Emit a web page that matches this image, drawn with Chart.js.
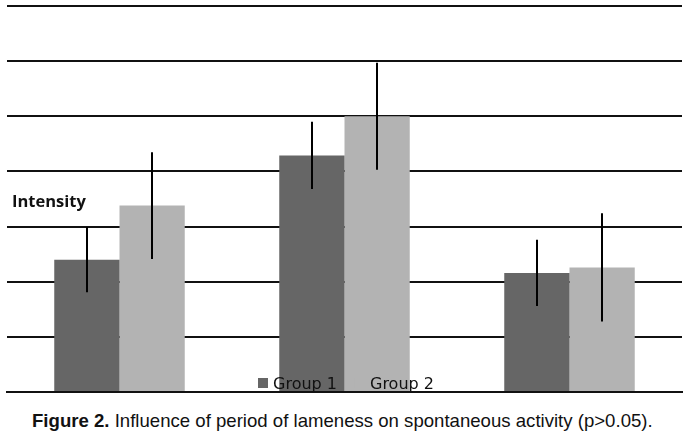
<!DOCTYPE html>
<html>
<head>
<meta charset="utf-8">
<script src="https://cdn.jsdelivr.net/npm/chart.js@4.4.1/dist/chart.umd.min.js"></script>
<style>
  html, body { margin: 0; padding: 0; background: #fff; }
  #wrap { position: relative; width: 686px; height: 436px; overflow: hidden; }
  #chart-box { position: absolute; left: 0; top: 0; width: 686px; height: 400px; }
  #caption {
    position: absolute; left: 32px; top: 410px; white-space: nowrap; line-height: 22px;
    font-family: "Liberation Sans", Arial, sans-serif; font-size: 18.6px; color: #111;
  }
  #caption b { font-weight: bold; }
</style>
</head>
<body>
<div id="wrap">
  <div id="chart-box"><canvas id="chart"></canvas></div>
  <div id="caption"><b>Figure 2.</b> Influence of period of lameness on spontaneous activity (p&gt;0.05).</div>
</div>
<script>
var categories = ['Period 1', 'Period 2', 'Period 3'];
var seriesNames = ['Group 1', 'Group 2'];
var group1 = [2.4, 4.29, 2.16];
var group1Err = [0.59, 0.61, 0.6];
var group2 = [3.38, 5.0, 2.26];
var group2Err = [0.97, 0.97, 0.98];
var yTicks = [0, 1, 2, 3, 4, 5, 6, 7];

var errors = [group1Err, group2Err];

var errorBars = {
  id: 'errorBars',
  afterDatasetsDraw: function(chart) {
    var ctx = chart.ctx, y = chart.scales.y;
    ctx.save();
    ctx.strokeStyle = '#000';
    ctx.lineWidth = 2;
    chart.data.datasets.forEach(function(ds, i) {
      var meta = chart.getDatasetMeta(i);
      meta.data.forEach(function(bar, j) {
        var v = ds.data[j], e = errors[i][j];
        ctx.beginPath();
        ctx.moveTo(Math.round(bar.x), y.getPixelForValue(v + e));
        ctx.lineTo(Math.round(bar.x), y.getPixelForValue(v - e));
        ctx.stroke();
      });
    });
    ctx.restore();
  }
};

var labelsAndLegend = {
  id: 'labelsAndLegend',
  afterDraw: function(chart) {
    var ctx = chart.ctx;
    ctx.save();
    ctx.fillStyle = '#111';
    ctx.font = 'bold 16.5px "Open Sans", sans-serif';
    ctx.textBaseline = 'alphabetic';
    ctx.fillText('Intensity', 12, 207);

    ctx.font = '16px "DejaVu Sans", Verdana, sans-serif';
    var x = 258, yTop = 378;
    chart.data.datasets.forEach(function(ds) {
      ctx.fillStyle = ds.backgroundColor;
      ctx.fillRect(x, yTop, 10, 10);
      ctx.fillStyle = '#111';
      ctx.fillText(ds.label, x + 15, 389);
      x += 15 + ctx.measureText(ds.label).width + 18;
    });
    ctx.restore();
  }
};

new Chart(document.getElementById('chart'), {
  type: 'bar',
  data: {
    labels: categories,
    datasets: [{
      label: seriesNames[0],
      data: group1,
      backgroundColor: '#666666',
      borderWidth: 0
    }, {
      label: seriesNames[1],
      data: group2,
      backgroundColor: '#b3b3b3',
      borderWidth: 0
    }]
  },
  options: {
    responsive: true,
    maintainAspectRatio: false,
    animation: false,
    layout: { padding: { top: 6, left: 7, right: 4, bottom: 8 } },
    plugins: {
      legend: { display: false },
      tooltip: { enabled: false }
    },
    datasets: { bar: { barPercentage: 1, categoryPercentage: 0.58 } },
    scales: {
      x: {
        ticks: { display: false },
        grid: { display: false, drawTicks: false },
        border: { display: true, color: '#111', width: 2 }
      },
      y: {
        min: yTicks[0],
        max: yTicks[yTicks.length - 1],
        afterBuildTicks: function(axis) {
          axis.ticks = yTicks.map(function(v) { return { value: v }; });
        },
        ticks: { display: false },
        grid: { color: '#111', lineWidth: 2, drawTicks: false },
        border: { display: false }
      }
    }
  },
  plugins: [errorBars, labelsAndLegend]
});
</script>
</body>
</html>
